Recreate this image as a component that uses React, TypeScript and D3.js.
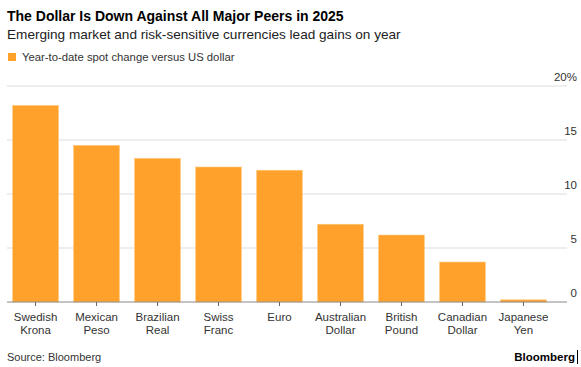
import React, { useEffect, useRef } from "react";
import * as d3 from "d3";

const categories = [
  "Swedish Krona",
  "Mexican Peso",
  "Brazilian Real",
  "Swiss Franc",
  "Euro",
  "Australian Dollar",
  "British Pound",
  "Canadian Dollar",
  "Japanese Yen",
];
const ytdChange = [18.2, 14.5, 13.3, 12.5, 12.2, 7.2, 6.2, 3.7, 0.2];
const yTicks = [0, 5, 10, 15, 20];

const W = 581;
const H = 367;
const FONT = "'Liberation Sans', Arial, Helvetica, sans-serif";
const ORANGE = "#ffa12b";

const App = () => {
  const ref = useRef<SVGSVGElement>(null);

  useEffect(() => {
    const svg = d3.select(ref.current);
    svg.selectAll("*").remove();
    svg.style("font-family", FONT);

    const left = 7;
    const right = 567;
    const x = d3.scaleBand()
      .domain(categories)
      .range([left, 552])
      .paddingInner(0.25)
      .paddingOuter(0.093);
    const y = d3.scaleLinear().domain([0, 20]).range([302, 86]);

    // title block
    svg.append("text")
      .attr("x", 7).attr("y", 21)
      .style("font-size", "14px").style("font-weight", "bold").style("fill", "#000")
      .text("The Dollar Is Down Against All Major Peers in 2025");
    svg.append("text")
      .attr("x", 7).attr("y", 39)
      .style("font-size", "13.6px").style("fill", "#222")
      .text("Emerging market and risk-sensitive currencies lead gains on year");

    // legend
    svg.append("rect")
      .attr("x", 8).attr("y", 53).attr("width", 8).attr("height", 8)
      .attr("fill", ORANGE);
    svg.append("text")
      .attr("x", 22).attr("y", 61)
      .style("font-size", "11.3px").style("fill", "#333")
      .text("Year-to-date spot change versus US dollar");

    // grid
    svg.append("g").selectAll("line")
      .data(yTicks.filter(d => d > 0))
      .enter().append("line")
      .attr("x1", left).attr("x2", right)
      .attr("y1", d => y(d)).attr("y2", d => y(d))
      .attr("stroke", "#ddd").attr("stroke-width", 1);

    svg.append("g").selectAll("text")
      .data(yTicks)
      .enter().append("text")
      .attr("x", 577)
      .attr("y", d => y(d) - 5)
      .attr("text-anchor", "end")
      .style("font-size", "11.5px").style("fill", "#333")
      .text(d => (d === 20 ? "20%" : String(d)));

    // bars
    svg.append("g").selectAll("rect")
      .data(ytdChange)
      .enter().append("rect")
      .attr("x", (d, i) => x(categories[i])!)
      .attr("width", x.bandwidth())
      .attr("y", d => y(d))
      .attr("height", d => y(0) - y(d))
      .attr("fill", ORANGE)
      .attr("stroke", "#ffc77a")
      .attr("stroke-width", 0.6);

    // baseline + ticks
    svg.append("line")
      .attr("x1", left).attr("x2", right)
      .attr("y1", y(0)).attr("y2", y(0))
      .attr("stroke", "#888").attr("stroke-width", 1);

    const ticks = svg.append("g").selectAll("g")
      .data(categories)
      .enter().append("g")
      .attr("transform", d => `translate(${x(d)! + x.bandwidth() / 2},0)`);
    ticks.append("line")
      .attr("y1", y(0)).attr("y2", y(0) + 4)
      .attr("stroke", "#666");
    ticks.each(function (d) {
      const words = d.split(" ");
      const t = d3.select(this).append("text")
        .attr("text-anchor", "middle")
        .style("font-size", "11.5px").style("fill", "#333");
      words.forEach((w, i) => {
        t.append("tspan").attr("x", 0).attr("y", 321 + i * 12.5).text(w);
      });
    });

    // footer
    svg.append("text")
      .attr("x", 7).attr("y", 361)
      .style("font-size", "11px").style("fill", "#333")
      .text("Source: Bloomberg");
    svg.append("text")
      .attr("x", 575).attr("y", 361)
      .attr("text-anchor", "end")
      .style("font-size", "11.5px").style("font-weight", "bold").style("fill", "#000")
      .text("Bloomberg");
    svg.append("line")
      .attr("x1", 577.5).attr("x2", 577.5)
      .attr("y1", 350).attr("y2", 364)
      .attr("stroke", "#000").attr("stroke-width", 1);
  }, []);

  return (
    <div style={{ position: "absolute", left: 0, top: 0 }}>
      <svg ref={ref} width={W} height={H} style={{ display: "block", background: "#fff" }} />
    </div>
  );
};

export default App;
